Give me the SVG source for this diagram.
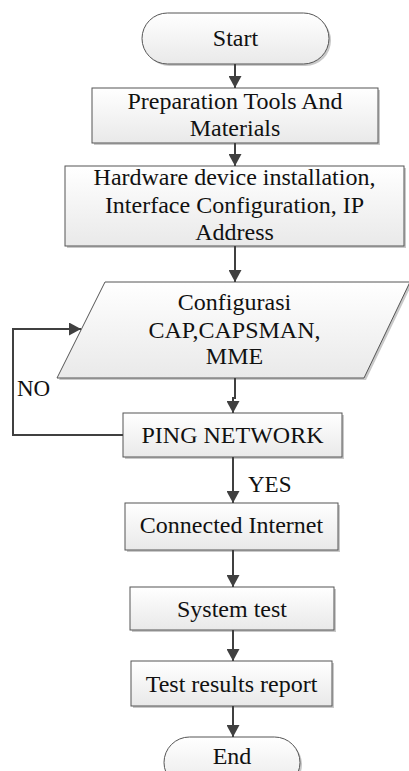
<svg xmlns="http://www.w3.org/2000/svg" width="409" height="771" viewBox="0 0 409 771">
<style>
.shape{fill:url(#g);stroke:#555;stroke-width:1}
.shadow{fill:#c9c9c9;stroke:none}
.t{font-family:"Liberation Serif","Times New Roman",serif;font-size:24px;fill:#111;text-anchor:middle}
.lbl{font-family:"Liberation Serif","Times New Roman",serif;font-size:23px;fill:#111}
.c{fill:none;stroke:#404040;stroke-width:2}
</style>
<defs>
<linearGradient id="g" x1="0" y1="0" x2="0" y2="1">
<stop offset="0" stop-color="#ffffff"/>
<stop offset="1" stop-color="#e9e9e9"/>
</linearGradient>
<marker id="ah" markerUnits="userSpaceOnUse" markerWidth="13" markerHeight="13" refX="12" refY="6.5" orient="auto">
<path d="M0,0 L12,6.5 L0,13 Z" fill="#404040"/>
</marker>
</defs>
<rect width="409" height="771" fill="#fff"/>

<g id="start">
<rect class="shadow" x="144" y="15" width="187" height="51" rx="25.5"/>
<rect class="shape" x="142" y="13" width="187" height="51" rx="25.5"/>
<text class="t" x="235.5" y="46">Start</text>
</g>

<g id="prep">
<rect class="shadow" x="94" y="90" width="286" height="55"/>
<rect class="shape" x="92" y="88" width="286" height="55"/>
<text class="t" x="235" y="109">Preparation Tools And</text>
<text class="t" x="235" y="136">Materials</text>
</g>

<g id="hardware">
<rect class="shadow" x="67" y="168" width="339" height="80"/>
<rect class="shape" x="65" y="166" width="339" height="80"/>
<text class="t" x="234.5" y="185">Hardware device installation,</text>
<text class="t" x="234.5" y="213">Interface Configuration, IP</text>
<text class="t" x="234.5" y="240">Address</text>
</g>

<g id="config">
<polygon class="shadow" points="107,284 412,284 366,380 59,380"/>
<polygon class="shape" points="105,282 410,282 364,378 57,378"/>
<text class="t" x="234.5" y="310">Configurasi</text>
<text class="t" x="234.5" y="338">CAP,CAPSMAN,</text>
<text class="t" x="234.5" y="364">MME</text>
</g>

<g id="ping">
<rect class="shadow" x="125" y="415" width="219" height="44"/>
<rect class="shape" x="123" y="413" width="219" height="44"/>
<text class="t" x="232.5" y="443">PING NETWORK</text>
</g>

<g id="connected">
<rect class="shadow" x="127" y="505" width="213" height="47"/>
<rect class="shape" x="125" y="503" width="213" height="47"/>
<text class="t" x="231.5" y="533">Connected Internet</text>
</g>

<g id="systemtest">
<rect class="shadow" x="132" y="589" width="204" height="43"/>
<rect class="shape" x="130" y="587" width="204" height="43"/>
<text class="t" x="232" y="617">System test</text>
</g>

<g id="report">
<rect class="shadow" x="133" y="663" width="201" height="45"/>
<rect class="shape" x="131" y="661" width="201" height="45"/>
<text class="t" x="231.5" y="692">Test results report</text>
</g>

<g id="end">
<rect class="shadow" x="166" y="739" width="136" height="51" rx="25.5"/>
<rect class="shape" x="164" y="737" width="136" height="51" rx="25.5"/>
<text class="t" x="232" y="764">End</text>
</g>

<g id="connectors">
<path class="c" d="M235,64 V88" marker-end="url(#ah)"/>
<path class="c" d="M235,143 V166" marker-end="url(#ah)"/>
<path class="c" d="M235,246 V282" marker-end="url(#ah)"/>
<path class="c" d="M235,378 V398 H233 V413" marker-end="url(#ah)"/>
<path class="c" d="M123,435 H13 V329 H81" marker-end="url(#ah)"/>
<path class="c" d="M233,457 V503" marker-end="url(#ah)"/>
<path class="c" d="M233,550 V587" marker-end="url(#ah)"/>
<path class="c" d="M233,630 V661" marker-end="url(#ah)"/>
<path class="c" d="M233,706 V737" marker-end="url(#ah)"/>
<text class="lbl" x="17" y="396">NO</text>
<text class="lbl" x="248" y="492">YES</text>
</g>
</svg>
